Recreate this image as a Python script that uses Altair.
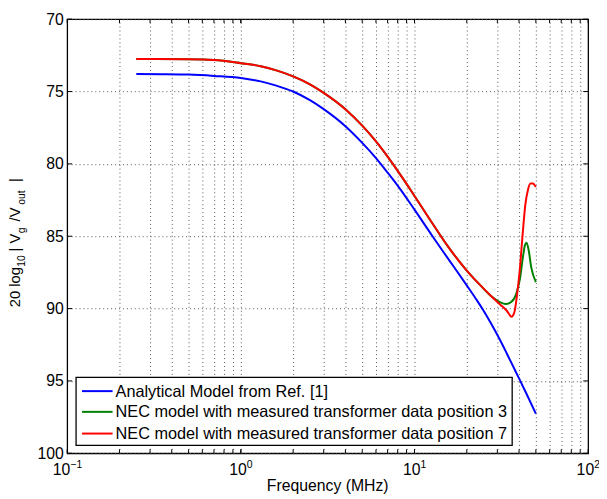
import altair as alt
import pandas as pd

# ---------------- data ----------------
series_names = [
    "Analytical Model from Ref. [1]",
    "NEC model with measured transformer data position 3",
    "NEC model with measured transformer data position 7",
]
series_colors = ["#0000ff", "#008000", "#ff0000"]

blue_f = [0.25, 0.35, 0.5, 0.7, 1.0, 1.3, 1.6, 2.0, 2.5, 3.0, 4.0, 5.0, 6.0, 7.0, 8.0,
          10.0, 12.7, 14.5, 17.0, 20.0, 22.5, 25.0, 27.5, 30.4, 34.0, 38.6, 44.0, 50.0]
blue_v = [73.79, 73.80, 73.83, 73.92, 74.06, 74.30, 74.59, 75.00, 75.60, 76.22, 77.40,
          78.55, 79.60, 80.60, 81.50, 83.16, 85.00, 86.00, 87.18, 88.40, 89.30, 90.15,
          91.00, 91.95, 93.10, 94.45, 95.85, 97.27]

common_f = [0.25, 0.5, 0.7, 1.0, 1.3, 1.6, 2.0, 2.5, 3.0, 4.0, 5.0, 6.0, 7.0, 8.0, 9.0,
            10.0, 12.5, 15.5, 20.0, 24.0, 27.7]
common_v = [72.75, 72.77, 72.82, 73.04, 73.25, 73.54, 73.95, 74.50, 75.09, 76.22, 77.36,
            78.45, 79.50, 80.48, 81.38, 82.22, 84.00, 85.67, 87.37, 88.40, 89.15]

green_tail_f = [31.0, 33.5, 36.0, 38.5, 40.4, 42.4, 43.3, 44.2, 45.5, 47.0, 50.0]
green_tail_v = [89.55, 89.69, 89.55, 89.00, 88.00, 86.20, 85.60, 85.45, 86.00, 87.14, 88.17]

red_tail_f = [31.0, 34.0, 36.2, 37.5, 39.0, 40.4, 42.0, 43.5, 45.0, 46.5, 48.0, 50.0]
red_tail_v = [89.70, 90.15, 90.56, 90.30, 89.00, 87.30, 84.80, 82.80, 81.80, 81.35, 81.35, 81.60]

x_grid_vals = [0.2, 0.3, 0.4, 0.5, 0.6, 0.7, 0.8, 0.9, 1, 2, 3, 4, 5, 6, 7, 8, 9, 10,
               20, 30, 40, 50, 60, 70, 80, 90]
x_major = [0.1, 1, 10, 100]
x_major_exp = ["\u22121", "0", "1", "2"]
y_ticks = [70, 75, 80, 85, 90, 95, 100]

# ---------------- build tables ----------------
rows = []
for f, v in zip(blue_f, blue_v):
    rows.append({"f": f, "v": v, "series": series_names[0], "k": 0})
for f, v in zip(common_f + green_tail_f, common_v + green_tail_v):
    rows.append({"f": f, "v": v, "series": series_names[1], "k": 1})
for f, v in zip(common_f + red_tail_f, common_v + red_tail_v):
    rows.append({"f": f, "v": v, "series": series_names[2], "k": 2})
df = pd.DataFrame(rows)

W, H = 528, 440
FONT = "Liberation Sans"
xscale = alt.Scale(type="log", domain=[0.1, 100], nice=False)
yscale = alt.Scale(domain=[70, 100], reverse=True, nice=False, zero=False)

xaxis = alt.Axis(values=x_grid_vals, grid=True, gridDash=[1, 3], gridColor="#555",
                 gridOpacity=1, gridWidth=1, labels=False, ticks=False,
                 domain=False, title=None)
yaxis = alt.Axis(values=y_ticks, grid=True, gridDash=[1, 3], gridColor="#555",
                 gridOpacity=1, gridWidth=1, ticks=False, domain=False, title=None,
                 labelFont=FONT, labelFontSize=16, labelColor="black", labelPadding=4)

lines = alt.Chart(df).mark_line(strokeWidth=2, interpolate="monotone").encode(
    x=alt.X("f:Q", scale=xscale, axis=xaxis),
    y=alt.Y("v:Q", scale=yscale, axis=yaxis),
    color=alt.Color("series:N",
                    scale=alt.Scale(domain=series_names, range=series_colors),
                    legend=None),
    order=alt.Order("k:Q"),
    detail="series:N",
)

xt = pd.DataFrame({"f": x_grid_vals + x_major})
yt = pd.DataFrame({"v": y_ticks})

def xrule(y1, y2):
    return alt.Chart(xt).mark_rule(color="black", strokeWidth=1).encode(
        x=alt.X("f:Q", scale=xscale, axis=xaxis), y=alt.value(y1), y2=alt.value(y2))

def yrule(x1, x2):
    return alt.Chart(yt).mark_rule(color="black", strokeWidth=1).encode(
        y=alt.Y("v:Q", scale=yscale, axis=yaxis), x=alt.value(x1), x2=alt.value(x2))

ticks = [xrule(H, H - 4), xrule(0, 4), yrule(0, 5), yrule(W, W - 5)]

# x tick labels 10^n
label_layers = []
for f, e in zip(x_major, x_major_exp):
    ew = 11.4 if len(e) > 1 else 5.6
    shift = (17.8 + ew) / 2 - ew  # right edge of "10" relative to tick
    d = pd.DataFrame({"f": [f], "base": ["10"], "exp": [e]})
    label_layers.append(alt.Chart(d).mark_text(align="right", baseline="alphabetic",
                                               font=FONT, fontSize=16, color="black",
                                               dx=shift).encode(
        x=alt.X("f:Q", scale=xscale, axis=xaxis), y=alt.value(H + 22), text="base:N"))
    label_layers.append(alt.Chart(d).mark_text(align="left", baseline="alphabetic",
                                               font=FONT, fontSize=10.5, color="black",
                                               dx=shift).encode(
        x=alt.X("f:Q", scale=xscale, axis=xaxis), y=alt.value(H + 14.5), text="exp:N"))

xtitle = alt.Chart(pd.DataFrame({"t": ["Frequency (MHz)"]})).mark_text(
    align="center", baseline="alphabetic", font=FONT, fontSize=16, color="black").encode(
    x=alt.value(W / 2), y=alt.value(H + 38), text="t:N")

# y title pieces (rotated, with subscripts)
ytitle_parts = ["20 log", "10", "| V", "g", "/V", "out", "|"]
ytitle_sub = [False, True, False, True, False, True, False]
ytitle_start = [292, 251, 235.5, 217, 205, 188, 165]
ytitle_layers = []
for t, s, y0 in zip(ytitle_parts, ytitle_sub, ytitle_start):
    d = pd.DataFrame({"t": [t]})
    ytitle_layers.append(alt.Chart(d).mark_text(
        align="left", baseline="alphabetic", angle=270, font=FONT,
        fontSize=10.5 if s else 15, color="black").encode(
        x=alt.value(-42.5 if s else -48), y=alt.value(y0), text="t:N"))

# legend (box, line samples, labels)
legend_box = alt.Chart(pd.DataFrame({"a": [0]})).mark_rect(
    fill="white", stroke="black", strokeWidth=1.3).encode(
    x=alt.value(9), x2=alt.value(451), y=alt.value(363), y2=alt.value(432))
legend_layers = [legend_box]
row_y = [377, 398, 420]
for name, col, ry in zip(series_names, series_colors, row_y):
    d = pd.DataFrame({"t": [name]})
    legend_layers.append(alt.Chart(d).mark_rule(color=col, strokeWidth=2).encode(
        x=alt.value(15), x2=alt.value(46), y=alt.value(ry)))
    legend_layers.append(alt.Chart(d).mark_text(
        align="left", baseline="middle", font=FONT, fontSize=16.5, color="black").encode(
        x=alt.value(49), y=alt.value(ry + 0.5), text="t:N"))

chart = alt.layer(lines, *ticks, *label_layers, xtitle, *ytitle_layers,
                  *legend_layers).properties(
    width=W, height=H,
    padding={"left": 60, "top": 8, "right": 11, "bottom": 42},
    autosize="none",
).configure_view(stroke="black", strokeWidth=1.3)

chart.save("out.html", embed_options={"renderer": "svg", "actions": False})
